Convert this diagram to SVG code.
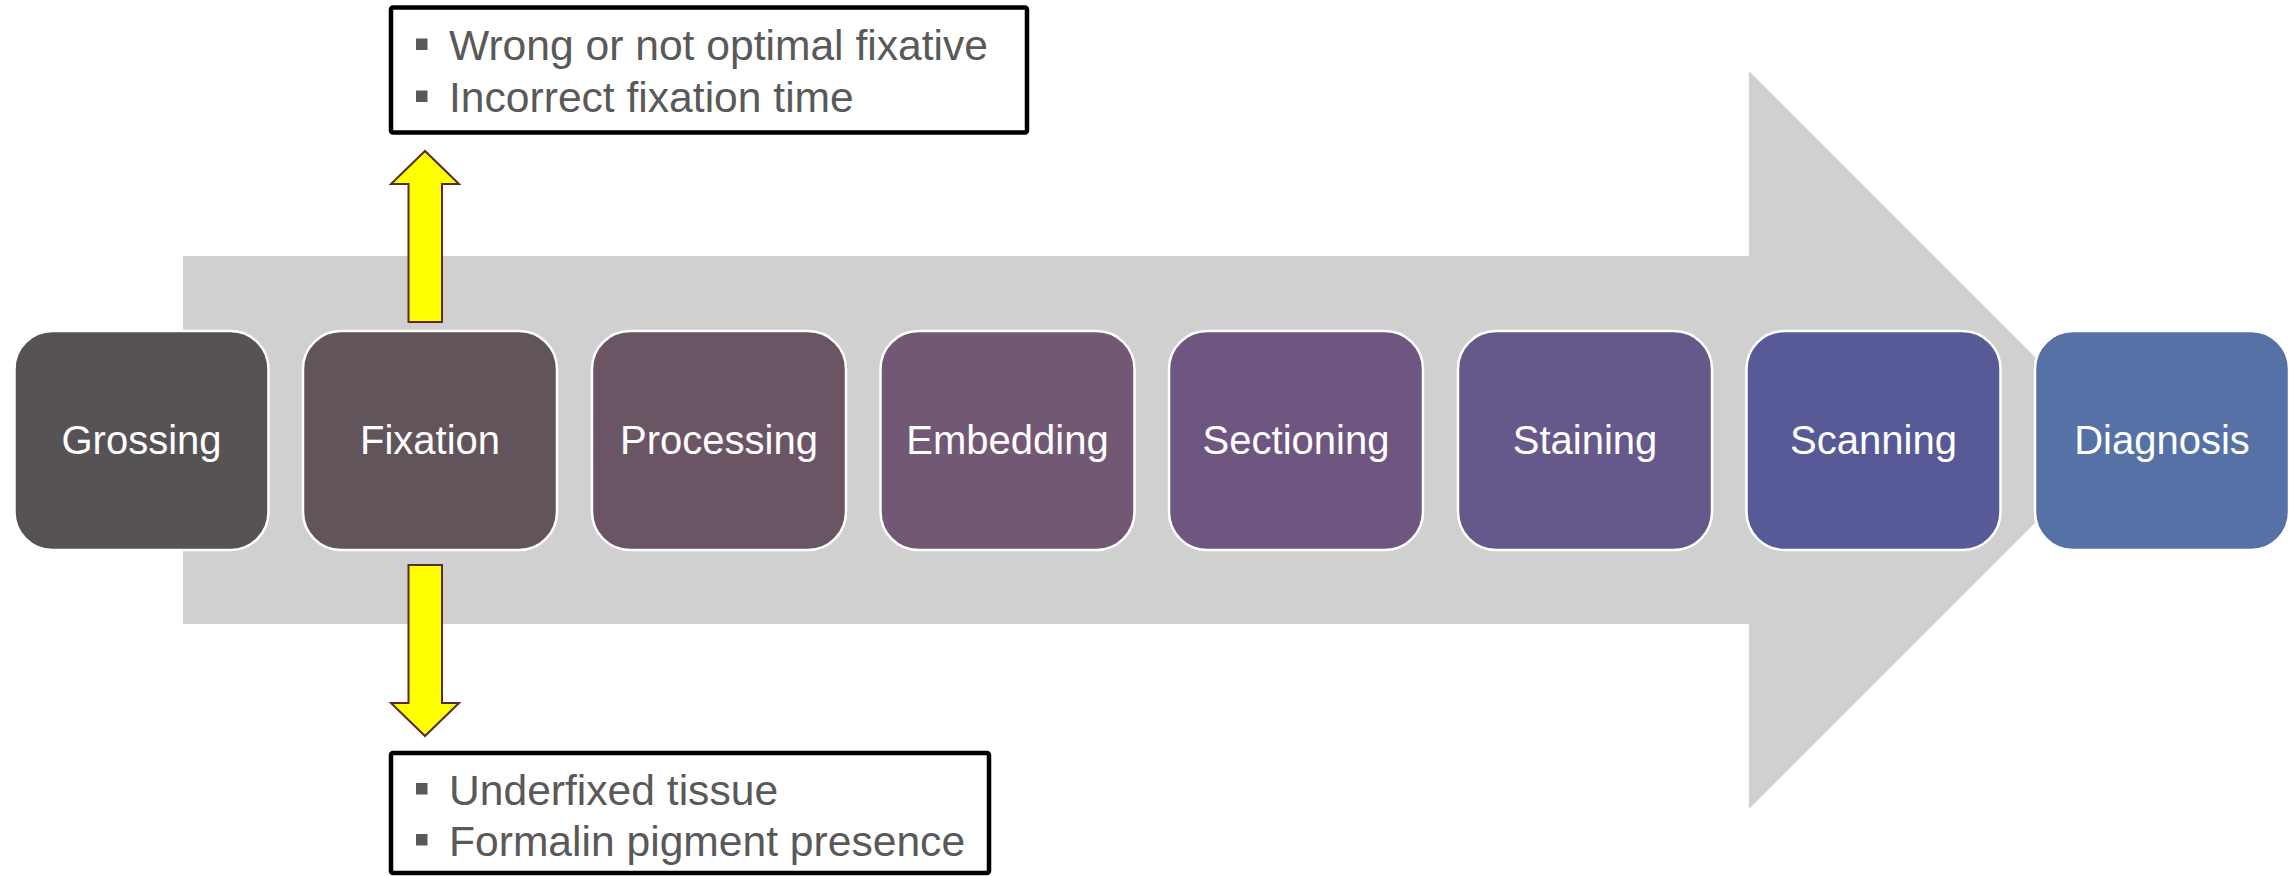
<svg xmlns="http://www.w3.org/2000/svg" width="2293" height="876" viewBox="0 0 2293 876">
  <style>
    .step { stroke: #ffffff; stroke-width: 2.5; }
    .step-label { font-family: "Liberation Sans", Arial, sans-serif; font-size: 40px; fill: #ffffff; text-anchor: middle; }
    .callout { fill: #ffffff; stroke: #000000; stroke-width: 4.5; }
    .callout-text { font-family: "Liberation Sans", Arial, sans-serif; font-size: 42.6px; fill: #595959; }
    .bullet { fill: #595959; }
    .warn-arrow { fill: #ffff00; stroke: #5a2a2a; stroke-width: 2; stroke-linejoin: miter; }
  </style>

  <rect width="2293" height="876" fill="#ffffff"/>

  <!-- big process arrow in the background -->
  <g id="process-arrow">
    <polygon points="183,256 1749,256 1749,71 2118,440 1749,809 1749,624 183,624" fill="#d0d0d0"/>
  </g>

  <!-- workflow steps -->
  <g id="step-grossing">
    <rect class="step" x="14.5" y="331" width="254" height="219" rx="38" ry="38" fill="#575254"/>
    <text class="step-label" x="141.5" y="454">Grossing</text>
  </g>
  <g id="step-fixation">
    <rect class="step" x="303" y="331" width="254" height="219" rx="38" ry="38" fill="#62545b"/>
    <text class="step-label" x="430" y="454">Fixation</text>
  </g>
  <g id="step-processing">
    <rect class="step" x="592" y="331" width="254" height="219" rx="38" ry="38" fill="#6b5565"/>
    <text class="step-label" x="719" y="454">Processing</text>
  </g>
  <g id="step-embedding">
    <rect class="step" x="880.5" y="331" width="254" height="219" rx="38" ry="38" fill="#735875"/>
    <text class="step-label" x="1007.5" y="454">Embedding</text>
  </g>
  <g id="step-sectioning">
    <rect class="step" x="1169" y="331" width="254" height="219" rx="38" ry="38" fill="#6f5680"/>
    <text class="step-label" x="1296" y="454">Sectioning</text>
  </g>
  <g id="step-staining">
    <rect class="step" x="1458" y="331" width="254" height="219" rx="38" ry="38" fill="#66588a"/>
    <text class="step-label" x="1585" y="454">Staining</text>
  </g>
  <g id="step-scanning">
    <rect class="step" x="1746.5" y="331" width="254" height="219" rx="38" ry="38" fill="#575a96"/>
    <text class="step-label" x="1873.5" y="454">Scanning</text>
  </g>
  <g id="step-diagnosis">
    <rect class="step" x="2035" y="331" width="254" height="219" rx="38" ry="38" fill="#5671a6"/>
    <text class="step-label" x="2162" y="454">Diagnosis</text>
  </g>

  <!-- connectors from Fixation to its issue callouts -->
  <g id="connectors">
    <polygon class="warn-arrow" points="408.5,322 408.5,184 391,184 425,151 459,184 442,184 442,322"/>
    <polygon class="warn-arrow" points="408.5,565 442,565 442,703 459,703 425,736 391,703 408.5,703"/>
  </g>

  <!-- issue callouts -->
  <g id="callout-top">
    <rect class="callout" x="391" y="7.5" width="636" height="125" rx="2"/>
    <rect class="bullet" x="416" y="38.5" width="11.5" height="11.5"/>
    <text class="callout-text" x="449" y="60">Wrong or not optimal fixative</text>
    <rect class="bullet" x="416" y="90.5" width="11.5" height="11.5"/>
    <text class="callout-text" x="449" y="112">Incorrect fixation time</text>
  </g>
  <g id="callout-bottom">
    <rect class="callout" x="391" y="753" width="598" height="120" rx="2"/>
    <rect class="bullet" x="416" y="783" width="11.5" height="11.5"/>
    <text class="callout-text" x="449" y="805">Underfixed tissue</text>
    <rect class="bullet" x="416" y="834" width="11.5" height="11.5"/>
    <text class="callout-text" x="449" y="856">Formalin pigment presence</text>
  </g>
</svg>
